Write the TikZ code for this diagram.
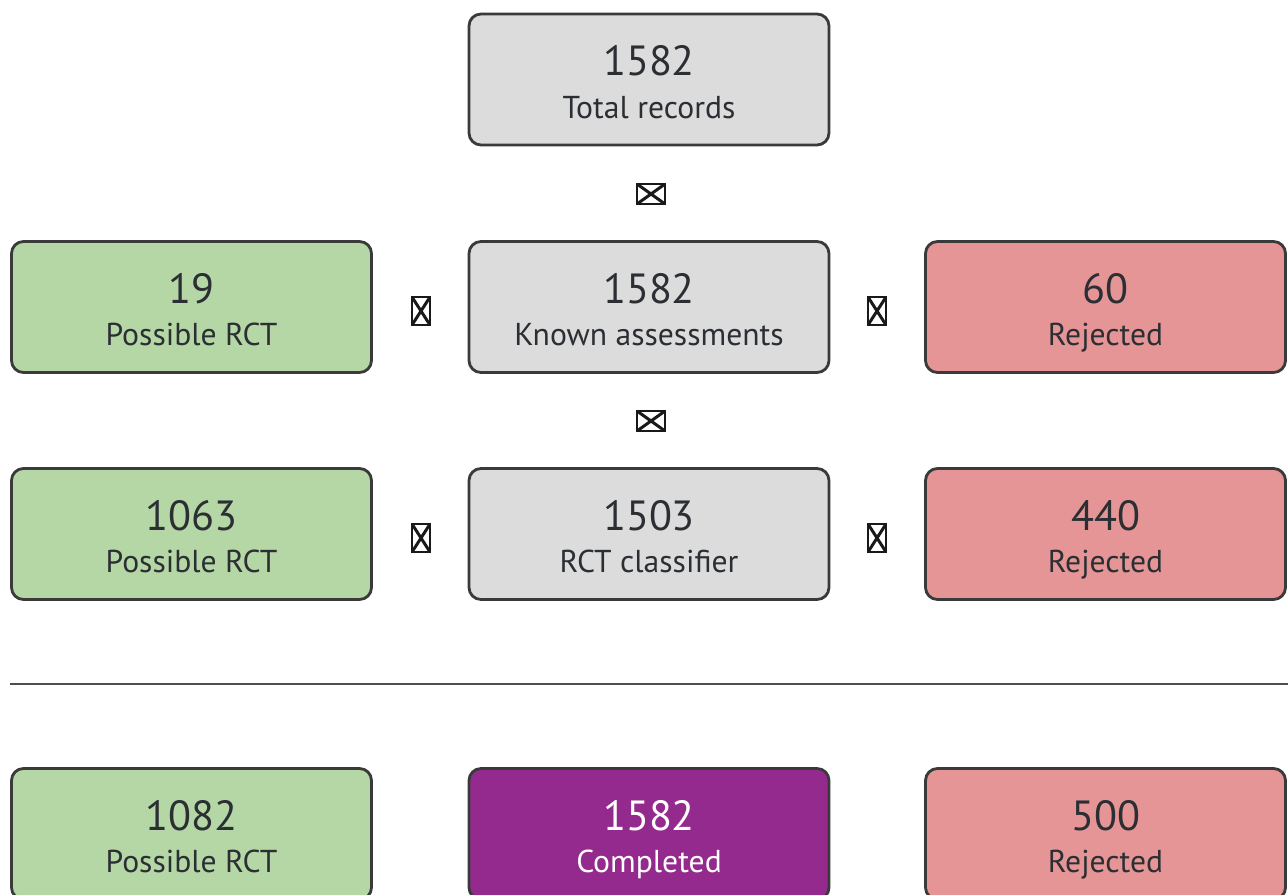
\documentclass[tikz,border=0pt]{standalone}
\usepackage{fontspec}
\setmainfont{PT Sans}
\definecolor{boxgray}{HTML}{DCDCDC}
\definecolor{boxgreen}{HTML}{B4D7A5}
\definecolor{boxred}{HTML}{E69596}
\definecolor{boxpurple}{HTML}{952A8E}
\definecolor{edgegray}{HTML}{3A3A3A}
\definecolor{inkgray}{HTML}{2B2F33}
\newcommand{\stagetext}[2]{{\fontsize{24}{24}\selectfont\rule{0pt}{20pt}#1}\\{\fontsize{18}{24}\selectfont\smash{#2}}}
\begin{document}
\begin{tikzpicture}[x=0.2mm,y=-0.2mm,
    stage/.style={draw=edgegray, line width=1.6pt, rounded corners=0.24cm,
      minimum width=7.2cm, minimum height=2.62cm, inner sep=0pt,
      align=center, text=inkgray, font=\fontsize{18}{24}\selectfont},
    tofu/.style={draw=black!90, line width=1.5pt, inner sep=0pt,
      path picture={\draw [line width=1.7pt]
        (path picture bounding box.north west) -- (path picture bounding box.south east)
        (path picture bounding box.north east) -- (path picture bounding box.south west);}},
    tofuh/.style={tofu, minimum width=0.56cm, minimum height=0.4cm},
    tofuv/.style={tofu, minimum width=0.36cm, minimum height=0.56cm}]
  \useasboundingbox (0,0) rectangle (1288,895);
  % top
  \node [stage, fill=boxgray] (total) at (649,79.5) {\stagetext{1582}{Total records}};
  \node [tofuh] (down1) at (651,194) {};
  % known assessments row
  \node [stage, fill=boxgreen] (possa) at (191.5,307) {\stagetext{19}{Possible RCT}};
  \node [tofuv] (left1) at (421,311) {};
  \node [stage, fill=boxgray] (known) at (649,307) {\stagetext{1582}{Known assessments}};
  \node [tofuv] (right1) at (877,311) {};
  \node [stage, fill=boxred] (reja) at (1105.5,307) {\stagetext{60}{Rejected}};
  \node [tofuh] (down2) at (651,421) {};
  % classifier row
  \node [stage, fill=boxgreen] (possb) at (191.5,534) {\stagetext{1063}{Possible RCT}};
  \node [tofuv] (left2) at (421,538) {};
  \node [stage, fill=boxgray] (classif) at (649,534) {\stagetext{1503}{RCT classifier}};
  \node [tofuv] (right2) at (877,538) {};
  \node [stage, fill=boxred] (rejb) at (1105.5,534) {\stagetext{440}{Rejected}};
  % divider
  \coordinate (rulel) at (10,684);
  \coordinate (ruler) at (1288,684);
  \draw [line width=1.6pt, color=edgegray!90] (rulel) -- (ruler);
  % totals
  \node [stage, fill=boxgreen] (posst) at (191.5,834) {\stagetext{1082}{Possible RCT}};
  \node [stage, fill=boxpurple, text=white] (done) at (649,834) {\stagetext{1582}{Completed}};
  \node [stage, fill=boxred] (rejt) at (1105.5,834) {\stagetext{500}{Rejected}};
\end{tikzpicture}
\end{document}
